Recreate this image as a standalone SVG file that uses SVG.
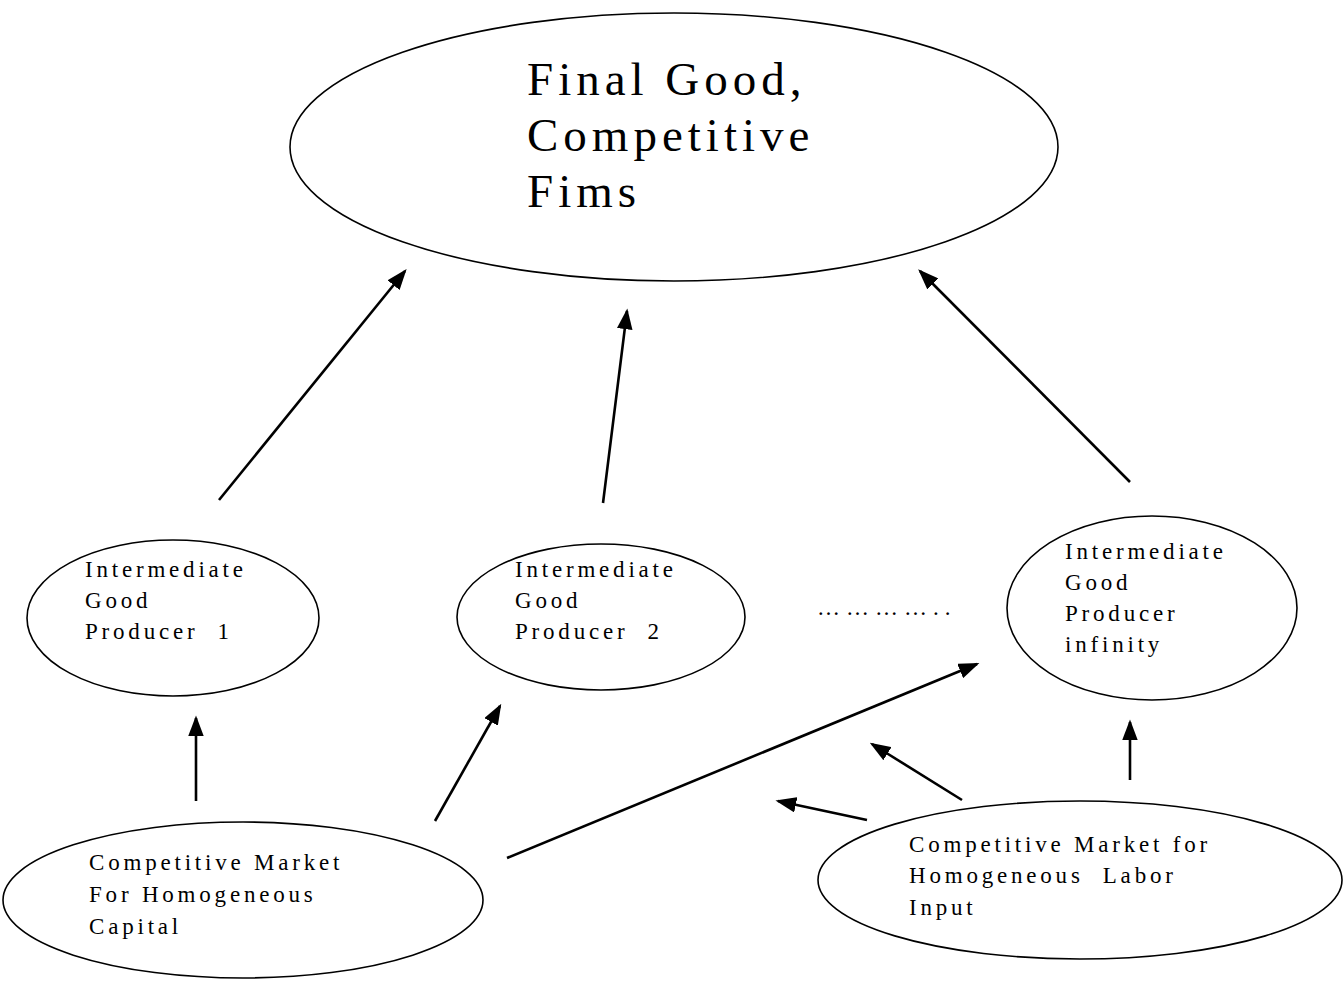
<svg xmlns="http://www.w3.org/2000/svg" width="1343" height="981" viewBox="0 0 1343 981">
<style>
.n{fill:none;stroke:#000;stroke-width:1.6}
.t{font-family:"Liberation Serif","Times New Roman",serif;font-size:23px;letter-spacing:3.8px;fill:#000;white-space:pre}
.big{font-size:47px;letter-spacing:5px}
.c{stroke:#000;stroke-width:2.6;fill:none;marker-end:url(#ah)}
</style>
<defs>
<marker id="ah" markerWidth="8" markerHeight="6" refX="7" refY="3" orient="auto" markerUnits="strokeWidth">
<path d="M0,0 L8,3 L0,6 Z" fill="#000"/>
</marker>
</defs>
<rect width="1343" height="981" fill="#fff"/>
<g id="final">
<ellipse class="n" cx="674" cy="147" rx="384" ry="134"/>
<text class="t big" x="527" y="95">Final Good,</text>
<text class="t big" x="527" y="151">Competitive</text>
<text class="t big" x="527" y="207">Fims</text>
</g>
<g id="ig1">
<ellipse class="n" cx="173" cy="618" rx="146" ry="78"/>
<text class="t" x="85" y="577">Intermediate</text>
<text class="t" x="85" y="608">Good</text>
<text class="t" x="85" y="639">Producer  1</text>
</g>
<g id="ig2">
<ellipse class="n" cx="601" cy="617" rx="144" ry="73"/>
<text class="t" x="515" y="577">Intermediate</text>
<text class="t" x="515" y="608">Good</text>
<text class="t" x="515" y="639">Producer  2</text>
</g>
<g id="dots">
<text class="t" x="817" y="615" style="letter-spacing:6px">…………..</text>
</g>
<g id="iginf">
<ellipse class="n" cx="1152" cy="608" rx="145" ry="92"/>
<text class="t" x="1065" y="559">Intermediate</text>
<text class="t" x="1065" y="590">Good</text>
<text class="t" x="1065" y="621">Producer</text>
<text class="t" x="1065" y="652">infinity</text>
</g>
<g id="capital">
<ellipse class="n" cx="243" cy="900" rx="240" ry="78"/>
<text class="t" x="89" y="870">Competitive Market</text>
<text class="t" x="89" y="902">For Homogeneous</text>
<text class="t" x="89" y="934">Capital</text>
</g>
<g id="labor">
<ellipse class="n" cx="1080" cy="880" rx="262" ry="79"/>
<text class="t" x="909" y="852">Competitive Market for</text>
<text class="t" x="909" y="883">Homogeneous  Labor</text>
<text class="t" x="909" y="915">Input</text>
</g>
<g id="connectors">
<line class="c" x1="219" y1="500" x2="405" y2="271"/>
<line class="c" x1="603" y1="503" x2="627" y2="311"/>
<line class="c" x1="1130" y1="482" x2="920" y2="271"/>
<line class="c" x1="196" y1="801" x2="196" y2="718"/>
<line class="c" x1="435" y1="821" x2="500" y2="706"/>
<line class="c" x1="507" y1="858" x2="977" y2="664"/>
<line class="c" x1="1130" y1="780" x2="1130" y2="722"/>
<line class="c" x1="962" y1="800" x2="872" y2="744"/>
<line class="c" x1="867" y1="820" x2="778" y2="801"/>
</g>
</svg>
